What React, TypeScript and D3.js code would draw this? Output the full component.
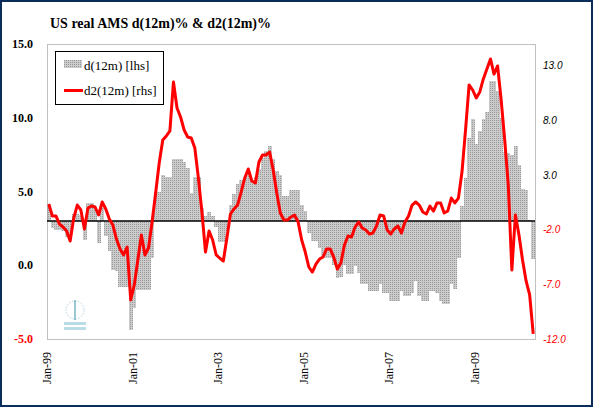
import React from "react";
import * as d3 from "d3";

// ---- data (monthly, Jan-99 .. May-10) ----
const barValues: number[] = [
  4.0, 2.5, 2.4, 2.4, 2.3, 1.9, 1.7, 3.5, 3.5, 3.4,
  1.7, 4.2, 4.2, 3.9, 1.5, 3.9, 2.0, 1.0, -0.3, -0.4,
  -1.5, -1.5, -1.5, -4.4, -2.9, -1.7, -1.7, -1.7, -1.7, 0.5,
  5.0, 5.0, 6.1, 6.0, 6.0, 7.2, 7.2, 7.2, 7.0, 6.6,
  4.9, 6.0, 6.0, 3.9, 3.35, 3.6, 3.35, 2.6, 1.6, 1.6,
  2.3, 4.1, 4.8, 5.5, 5.8, 5.8, 6.3, 5.8, 6.0, 6.5,
  7.3, 7.75, 8.1, 7.2, 6.4, 6.1, 4.7, 4.7, 5.1, 5.1,
  5.1, 4.1, 3.7, 2.2, 1.65, 1.65, 1.2, 0.6, 0.5, 0.5,
  0.0, -0.85, -0.8, 0.05, -0.6, -0.6, -0.05, -0.55, -1.3, -1.3,
  -1.75, -1.75, -1.75, -1.3, -1.85, -1.85, -2.4, -2.4, -2.4, -1.75,
  -2.1, -2.1, -1.85, -1.05, -2.1, -2.4, -2.4, -1.75, -1.75, -1.85,
  -2.4, -2.65, -2.65, -1.3, -1.6, 0.5, 4.0, 5.9, 8.6, 9.9,
  8.2, 9.1, 9.9, 10.4, 12.5, 12.5, 11.8, 10.0, 7.7, 7.6,
  7.5, 8.1, 6.8, 5.2, 5.1, 3.1, 0.45,
];

const lineValues: number[] = [
  0.36, -0.74, -0.74, -1.48, -1.75, -2.12, -3.03, -0.93, 0.26, -0.19,
  -1.93, -0.01, 0.17, 0.08, -0.65, 0.54, -0.1, -1.02, -1.57, -2.85,
  -3.76, -4.31, -3.58, -8.43, -7.06, -4.77, -2.48, -4.31, -3.67, -1.29,
  1.36, 4.11, 6.21, 6.58, 7.04, 11.52, 9.14, 8.32, 7.13, 6.49,
  6.4, 5.48, 2.73, -0.38, -4.04, -2.12, -2.94, -4.31, -4.59, -4.86,
  -2.76, -0.56, -0.1, 0.26, 1.45, 2.73, 3.56, 2.46, 2.28, 4.2,
  4.84, 4.84, 5.11, 3.47, 1.36, -0.47, -1.11, -1.11, -0.83, -0.65,
  -1.29, -2.94, -4.04, -5.41, -5.87, -5.14, -4.68, -4.5, -3.76, -3.76,
  -4.5, -5.59, -5.04, -3.4, -2.57, -2.66, -1.75, -1.29, -1.84, -2.02,
  -2.39, -2.3, -1.66, -0.65, -0.74, -2.02, -2.39, -1.93, -1.66, -2.3,
  -1.29, -0.74, 0.26, 0.54, 0.26, -0.38, -0.56, 0.17, -0.29, 0.45,
  0.45, -0.47, -0.29, 0.9, 0.45, 0.9, 3.28, 7.13, 11.25, 10.79,
  10.06, 10.61, 11.8, 12.71, 13.63, 12.25, 12.99, 9.87, 6.21, 2.09,
  -5.69, -0.65, -2.48, -4.77, -6.69, -7.97, -11.54,
];

const categories: string[] = d3
  .timeMonth.range(new Date(1999, 0, 1), new Date(2010, 5, 1))
  .map((d) => d3.timeFormat("%b-%y")(d));

const xTickLabels = ["Jan-99", "Jan-01", "Jan-03", "Jan-05", "Jan-07", "Jan-09"];
const lhsTicks = [15, 10, 5, 0, -5];
const rhsTicks = [13, 8, 3, -2, -7, -12];
const baselineValue = 3;

export default function App() {
  const W = 593, H = 407;
  const left = 47, right = 535, top = 44, bottom = 339;
  const x = d3.scaleBand<string>().domain(categories).range([left, right]).padding(0);
  const bw = x.bandwidth();
  const yL = d3.scaleLinear().domain([-5, 15]).range([bottom, top]);
  const yR = d3.scaleLinear().domain([-12, 15]).range([bottom, top]);
  const y0 = yL(baselineValue);

  const line = d3
    .line<number>()
    .x((_, i) => (x(categories[i]) as number) + bw / 2)
    .y((v) => yR(v));

  const serif = "'Liberation Serif', 'Times New Roman', serif";
  const sans = "'Liberation Sans', Arial, sans-serif";

  return (
    <div style={{ position: "fixed", left: 0, top: 0 }}>
      <svg width={W} height={H} style={{ display: "block", background: "#fff" }}>
        <defs>
          <pattern id="dots" width="2" height="2" patternUnits="userSpaceOnUse">
            <rect width="2" height="2" fill="#cbcbcb" />
            <rect width="1" height="1" fill="#9a9a9a" />
          </pattern>
        </defs>
        <rect x={1} y={1} width={W - 2} height={H - 2} fill="#fff" stroke="#0b2d5c" strokeWidth={2} />

        <text x={50} y={28} fontFamily={serif} fontWeight="bold" fontSize={14} fill="#000">
          US real AMS d(12m)% &amp; d2(12m)%
        </text>

        {/* bars */}
        <g shapeRendering="crispEdges">
          {barValues.map((v, i) => {
            const xx = x(categories[i]) as number;
            const yy = v >= baselineValue ? yL(v) : y0;
            const h = Math.abs(yL(v) - y0);
            return <rect key={i} x={xx} y={yy} width={bw + 0.4} height={h} fill="url(#dots)" />;
          })}
        </g>

        {/* plot border */}
        <rect x={left + 0.5} y={top + 0.5} width={right - left} height={bottom - top} fill="none"
          stroke="#808080" strokeWidth={1} strokeDasharray="1,1" />

        {/* baseline */}
        <line x1={left} x2={right} y1={y0} y2={y0} stroke="#000" strokeWidth={1.6} />

        {/* red line */}
        <path d={line(lineValues) || ""} fill="none" stroke="#ff0000" strokeWidth={3} strokeLinejoin="round" />

        {/* left axis labels */}
        {lhsTicks.map((t) => (
          <text key={t} x={33} y={yL(t) + 4} textAnchor="end" fontFamily={serif} fontWeight="bold"
            fontSize={12} fill={t < 0 ? "#ff0000" : "#000"}>
            {t.toFixed(1)}
          </text>
        ))}

        {/* right axis labels */}
        {rhsTicks.map((t) => (
          <text key={t} x={543} y={yR(t) + 3.5} fontFamily={sans} fontStyle="italic"
            fontSize={10} fill={t < 0 ? "#ff0000" : "#000"}>
            {t.toFixed(1)}
          </text>
        ))}

        {/* x labels */}
        {xTickLabels.map((lab) => {
          const idx = categories.indexOf(lab);
          const cx = (x(categories[idx]) as number) + bw / 2;
          return (
            <text key={lab} transform={`translate(${cx + 2.5},352) rotate(-90)`} textAnchor="end"
              fontFamily={serif} fontSize={12} fill="#000">
              {lab}
            </text>
          );
        })}

        {/* legend */}
        <rect x={55.5} y={51.5} width={108} height={53} fill="#fff" stroke="#000" strokeWidth={1} />
        <rect x={64} y={60} width={18} height={8} fill="url(#dots)" />
        <text x={84} y={69.5} fontFamily={serif} fontSize={13} fill="#000">d(12m) [lhs]</text>
        <line x1={64} x2={83} y1={90.5} y2={90.5} stroke="#ff0000" strokeWidth={3} />
        <text x={84} y={95} fontFamily={serif} fontSize={13} fill="#000">d2(12m) [rhs]</text>

        {/* small logo watermark */}
        <g opacity={0.8}>
          <circle cx={75} cy={310} r={9} fill="none" stroke="#9ccbd6" strokeWidth={1} strokeDasharray="1.5,1.5" />
          <line x1={75} x2={75} y1={300} y2={320} stroke="#5aa0b8" strokeWidth={1.5} />
          <rect x={64} y={322} width={22} height={3} fill="#a8d4e0" />
          <rect x={64} y={327} width={22} height={3} fill="#a8d4e0" />
        </g>
      </svg>
    </div>
  );
}
